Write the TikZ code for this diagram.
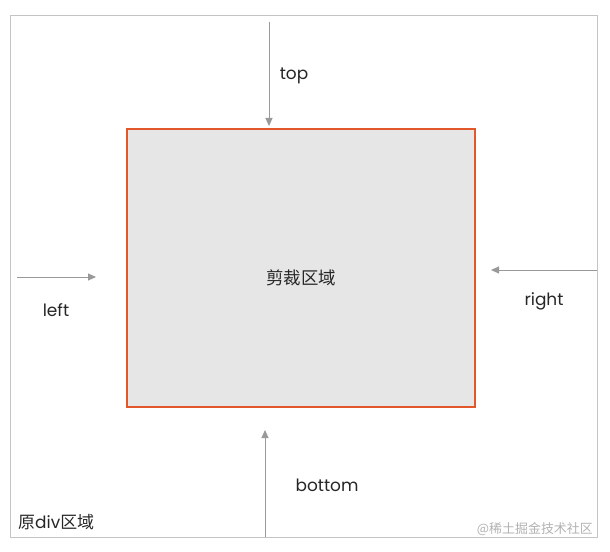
\documentclass[tikz,border=0pt]{standalone}
\usepackage{fontspec}
\setmainfont{Poppins}
\newfontfamily\cjk{Noto Sans CJK SC}
\usetikzlibrary{arrows.meta}
\definecolor{cropedge}{HTML}{E2582A}
\definecolor{cropfill}{HTML}{E6E6E6}
\definecolor{framegray}{HTML}{C4C4C4}
\definecolor{arrowgray}{HTML}{999999}
\tikzstyle{frame}=[draw=framegray, line width=1.5bp, inner sep=0]
\tikzstyle{crop}=[draw=cropedge, fill=cropfill, line width=2bp, inner sep=0]
\tikzstyle{offset}=[draw=arrowgray, line width=1bp, -{Triangle[length=8bp, width=7bp]}]
\tikzstyle{label}=[font=\fontsize{17}{19}\selectfont, text=black!85]

\begin{document}
\begin{tikzpicture}[x=1bp, y=-1bp]
      \useasboundingbox (0, 0) rectangle (610, 552);
      \node[frame, minimum width=587bp, minimum height=522bp] (outer) at (304, 276.5) {};
      \node[crop, minimum width=348bp, minimum height=278bp] (region) at (301, 268) {};
      \node[label, font=\fontsize{17.5}{19}\selectfont\cjk] (region_name) at (301, 278) {剪裁区域};
      \node[label, anchor=west, inner sep=0] (outer_name) at (18, 522) {{\cjk 原}div{\cjk 区域}};
      \node[anchor=east, inner sep=0, text=black!30, font=\fontsize{13}{15}\selectfont\cjk] (mark) at (593, 529) {@稀土掘金技术社区};

      \coordinate (top_in) at (269, 22);
      \coordinate (top_out) at (269, 126);
      \coordinate (bottom_in) at (265, 537);
      \coordinate (bottom_out) at (265, 430);
      \coordinate (left_in) at (17, 277);
      \coordinate (left_out) at (96, 277);
      \coordinate (right_in) at (597, 270);
      \coordinate (right_out) at (491, 270);
      \draw[offset] (top_in) to (top_out);
      \draw[offset] (bottom_in) to (bottom_out);
      \draw[offset] (left_in) to (left_out);
      \draw[offset] (right_in) to (right_out);

      \node[label] (top_name) at (294, 76) {top};
      \node[label] (bottom_name) at (327, 485) {bottom};
      \node[label] (left_name) at (56, 310) {left};
      \node[label] (right_name) at (544, 301) {right};
    \end{tikzpicture}
\end{document}
